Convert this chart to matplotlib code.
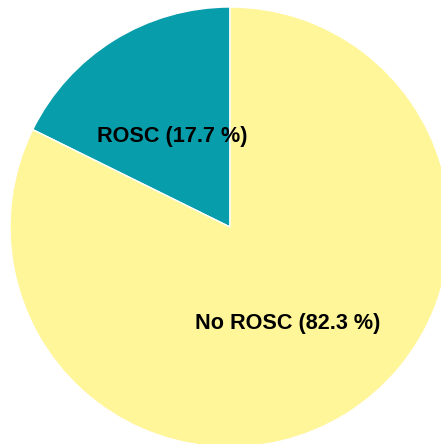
import matplotlib
matplotlib.use("Agg")
import matplotlib.pyplot as plt

labels = ["ROSC", "No ROSC"]
shares = [17.7, 82.3]
colors = ["#079DAB", "#FFF599"]

plt.rcParams['font.family'] = ['Liberation Sans', 'DejaVu Sans']

fig = plt.figure(figsize=(4.41, 4.44), dpi=100)
# pie centre at ~(230, 227) px, radius ~220 px
ax = fig.add_axes([10 / 441, (444 - 227 - 220) / 444, 440 / 441, 440 / 444])
texts = ["%s (%.1f %%)" % (l, s) for l, s in zip(labels, shares)]
wedges, txt = ax.pie(shares, labels=texts, colors=colors, startangle=90,
                     counterclock=True, labeldistance=0.5, radius=1,
                     wedgeprops=dict(edgecolor="white", linewidth=1),
                     textprops=dict(fontsize=15.6, fontweight="bold", ha="center", va="center"))
# nudge labels slightly down to match the original placement
for t in txt:
    x, y = t.get_position()
    t.set_position((x, y - 0.015))
ax.set_xlim(-1, 1)
ax.set_ylim(-1, 1)
ax.set_aspect("equal")
ax.axis("off")

fig.savefig("out.png", dpi=100)
